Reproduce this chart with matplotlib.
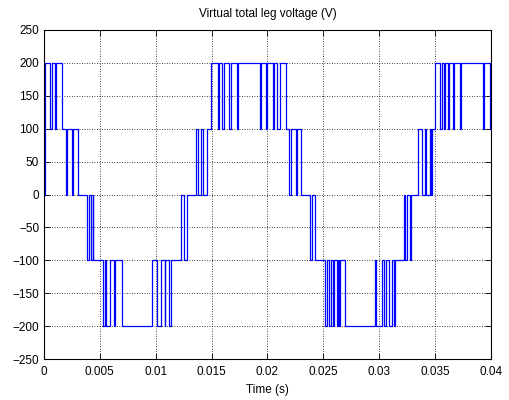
import matplotlib
matplotlib.use("Agg")
import matplotlib.pyplot as plt
from matplotlib.ticker import FuncFormatter, MultipleLocator

# switching instants (s) and the leg voltage level (V) held after each one
switch_t = [
    0.0, 0.00005, 0.00050, 0.00074, 0.00098, 0.00110, 0.00164, 0.00193, 0.00202,
    0.00247, 0.00259, 0.00301, 0.00381, 0.00405, 0.00417, 0.00437, 0.00439,
    0.00524, 0.00544, 0.00553, 0.00587, 0.00626, 0.00640, 0.00696, 0.00966,
    0.01007, 0.01043, 0.01079, 0.01082, 0.01118, 0.01139, 0.01222, 0.01251,
    0.01277, 0.01360, 0.01374, 0.01407, 0.01419, 0.01458, 0.01497, 0.01556,
    0.01568, 0.01592, 0.01607, 0.01660, 0.01673, 0.01726, 0.01738, 0.01929,
    0.01941, 0.01988, 0.02000, 0.02047, 0.02060, 0.02087, 0.02109, 0.02165,
    0.02192, 0.02206, 0.02251, 0.02260, 0.02302, 0.02382, 0.02395, 0.02429,
    0.02519, 0.02532, 0.02548, 0.02565, 0.02585, 0.02597, 0.02619, 0.02628,
    0.02637, 0.02646, 0.02695, 0.02959, 0.02972, 0.03021, 0.03039, 0.03062,
    0.03084, 0.03116, 0.03129, 0.03140, 0.03220, 0.03232, 0.03245, 0.03277,
    0.03286, 0.03351, 0.03379, 0.03406, 0.03417, 0.03458, 0.03464, 0.03471,
    0.03496, 0.03548, 0.03560, 0.03576, 0.03590, 0.03614, 0.03625, 0.03657,
    0.03667, 0.03726, 0.03735, 0.03930, 0.03940, 0.03988, 0.03997, 0.04,
]
levels = [
    0, 200, 100, 200, 100, 200, 100, 0, 100,
    0, 100, 0, -100, 0, -100, 0, -100,
    -200, -100, -200, -100, -200, -100, -200, -100,
    -200, -100, -200, -100, -200, -100, 0, -100,
    0, 100, 0, 100, 0, 100, 200, 100,
    200, 100, 200, 100, 200, 100, 200, 100,
    200, 100, 200, 100, 200, 100, 200, 100,
    0, 100, 0, 100, 0, -100, 0, -100,
    -200, -100, -200, -100, -200, -100, -200, -100,
    -200, -100, -200, -100, -200, -100, -200, -100,
    -200, -100, -200, -100, 0, -100, 0, -100,
    0, 100, 0, 100, 0, 100, 0, 100,
    200, 100, 200, 100, 200, 100, 200, 100,
    200, 100, 200, 100, 200, 100, 200, 200,
]

x_ticks = [0, 0.005, 0.01, 0.015, 0.02, 0.025, 0.03, 0.035, 0.04]

plt.rcParams["font.family"] = ["Liberation Sans", "DejaVu Sans"]
plt.rcParams["font.size"] = 8

fig = plt.figure(figsize=(5.09, 4.0), dpi=100)
ax = fig.add_axes([0.0864, 0.1025, 0.8782, 0.8225])

ax.step(switch_t, levels, where="post", color="#0000ff", lw=0.9)

ax.set_xlim(0, 0.04)
ax.set_ylim(-250, 250)
ax.set_xticks(x_ticks)
ax.xaxis.set_major_formatter(FuncFormatter(lambda v, _: f"{v:g}"))
ax.yaxis.set_major_locator(MultipleLocator(50))

ax.grid(True, color="k", linestyle=(0, (1, 2)), lw=0.6)
ax.tick_params(direction="in", top=True, right=True, length=4, width=0.6,
               labelsize=8.5)
ax.tick_params(axis="x", pad=5)
for s in ax.spines.values():
    s.set_linewidth(0.8)

ax.set_title("Virtual total leg voltage (V)", fontsize=8.5, pad=9)
ax.set_xlabel("Time (s)", fontsize=8.5, labelpad=4)

fig.savefig("out.png", dpi=100)
